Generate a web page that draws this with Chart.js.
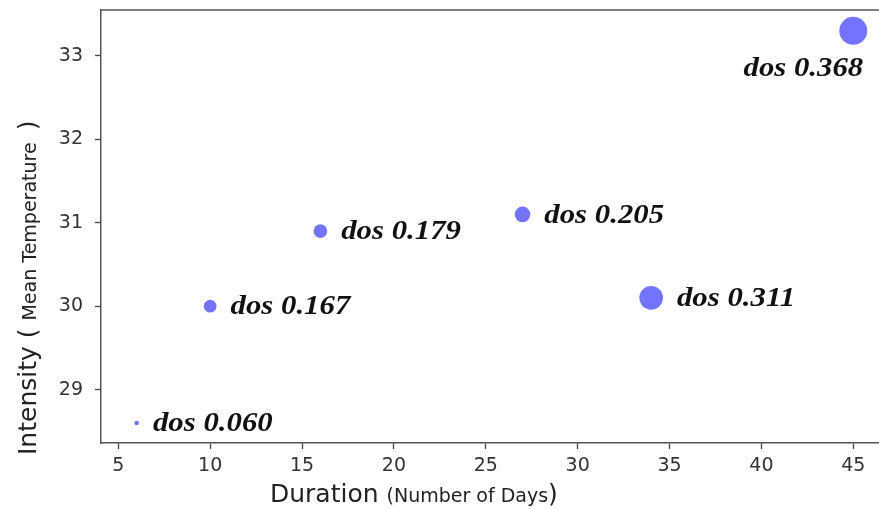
<!DOCTYPE html>
<html>
<head>
<meta charset="utf-8">
<script src="https://cdn.jsdelivr.net/npm/chart.js@4"></script>
<style>
  html, body { margin: 0; padding: 0; background: #fff; }
  #wrap { width: 879px; height: 509px; position: relative; }
</style>
</head>
<body>
<div id="wrap"><canvas id="chart"></canvas></div>
<script>
// bubble chart: duration vs intensity, sized by dos
const durations = [6, 10, 16, 27, 34, 45];
const intensities = [28.6, 30.0, 30.9, 31.1, 30.1, 33.3];
const dosValues = [0.060, 0.167, 0.179, 0.205, 0.311, 0.368];
const dosLabels = ['dos 0.060', 'dos 0.167', 'dos 0.179', 'dos 0.205', 'dos 0.311', 'dos 0.368'];
const xTicks = [5, 10, 15, 20, 25, 30, 35, 40, 45];
const yTicks = [29, 30, 31, 32, 33];

const RADIUS_PER_DOS = 38;
const points = durations.map((d, i) => ({ x: d, y: intensities[i], r: dosValues[i] * RADIUS_PER_DOS }));

// labels next to each bubble, bold italic serif
const dosLabelPlugin = {
    id: 'dosLabels',
    afterDatasetsDraw(chart) {
        const ctx = chart.ctx;
        const meta = chart.getDatasetMeta(0);
        const area = chart.chartArea;
        const sx = 1.1;
        ctx.save();
        ctx.font = 'italic bold 28px "Liberation Serif", "Times New Roman", serif';
        ctx.fillStyle = '#111';
        ctx.textBaseline = 'middle';
        meta.data.forEach((el, i) => {
            const r = points[i].r;
            const text = dosLabels[i];
            const w = ctx.measureText(text).width * sx;
            let tx = el.x + r + 14;
            let ty = el.y + 1;
            if (tx + w > area.right - 5) {
                // no room on the right: put it under the bubble
                tx = el.x + 10 - w;
                ty = el.y + r + 24;
            }
            ctx.save();
            ctx.translate(tx, ty);
            ctx.scale(sx, 1);
            ctx.textAlign = 'left';
            ctx.fillText(text, 0, 0);
            ctx.restore();
        });
        ctx.restore();
    }
};

// axis titles with a smaller font for the parenthesised part, plus the top frame line
const axisTitlePlugin = {
    id: 'axisTitles',
    afterDraw(chart) {
        const ctx = chart.ctx;
        const area = chart.chartArea;
        const big = '25px "DejaVu Sans", sans-serif';
        const small = '19px "DejaVu Sans", sans-serif';
        ctx.save();
        ctx.strokeStyle = '#555';
        ctx.lineWidth = 1.5;
        ctx.beginPath();
        ctx.moveTo(area.left, area.top);
        ctx.lineTo(area.right, area.top);
        ctx.stroke();

        ctx.fillStyle = '#222';
        ctx.textBaseline = 'alphabetic';
        ctx.textAlign = 'left';
        // x title
        let x = 270, y = 502;
        ctx.font = big;
        ctx.fillText('Duration ', x, y);
        x += ctx.measureText('Duration ').width;
        ctx.font = small;
        ctx.fillText('(Number of Days', x, y);
        x += ctx.measureText('(Number of Days').width;
        ctx.font = big;
        ctx.fillText(')', x, y);

        // y title, rotated
        ctx.translate(36, 455);
        ctx.rotate(-Math.PI / 2);
        x = 0;
        ctx.font = big;
        ctx.fillText('Intensity ', x, 0);
        x += ctx.measureText('Intensity ').width;
        ctx.fillText('(', x, 0);
        x += ctx.measureText('( ').width;
        ctx.font = small;
        ctx.fillText('Mean Temperature', x, 0);
        x += ctx.measureText('Mean Temperature  ').width;
        ctx.font = big;
        ctx.fillText(')', x, 0);
        ctx.restore();
    }
};

new Chart(document.getElementById('chart').getContext('2d'), {
    type: 'bubble',
    data: {
        datasets: [{
            data: points,
            backgroundColor: 'rgba(0, 0, 255, 0.55)',
            borderWidth: 0,
            hoverRadius: 0
        }]
    },
    options: {
        responsive: true,
        maintainAspectRatio: false,
        animation: false,
        layout: { autoPadding: false, padding: { top: 10, right: 0, left: 0, bottom: 0 } },
        plugins: {
            legend: { display: false },
            tooltip: { enabled: false }
        },
        scales: {
            x: {
                type: 'linear',
                min: 4.06,
                max: 46.4,
                afterBuildTicks: s => { s.ticks = xTicks.map(v => ({ value: v })); },
                afterFit: s => { s.height = 66; s.paddingLeft = 0; s.paddingRight = 0; },
                grid: { drawOnChartArea: false, tickLength: 6, tickColor: '#444', tickWidth: 1.3 },
                border: { display: true, color: '#555', width: 1.5 },
                ticks: { color: '#333', padding: 6, maxRotation: 0, font: { family: 'DejaVu Sans', size: 19 } }
            },
            y: {
                type: 'linear',
                min: 28.36,
                max: 33.55,
                afterBuildTicks: s => { s.ticks = yTicks.map(v => ({ value: v })); },
                afterFit: s => { s.width = 101; s.paddingTop = 0; s.paddingBottom = 0; },
                grid: { drawOnChartArea: false, tickLength: 6, tickColor: '#444', tickWidth: 1.3 },
                border: { display: true, color: '#555', width: 1.5 },
                ticks: { color: '#333', padding: 12, font: { family: 'DejaVu Sans', size: 19 } }
            }
        }
    },
    plugins: [dosLabelPlugin, axisTitlePlugin]
});
</script>
</body>
</html>
